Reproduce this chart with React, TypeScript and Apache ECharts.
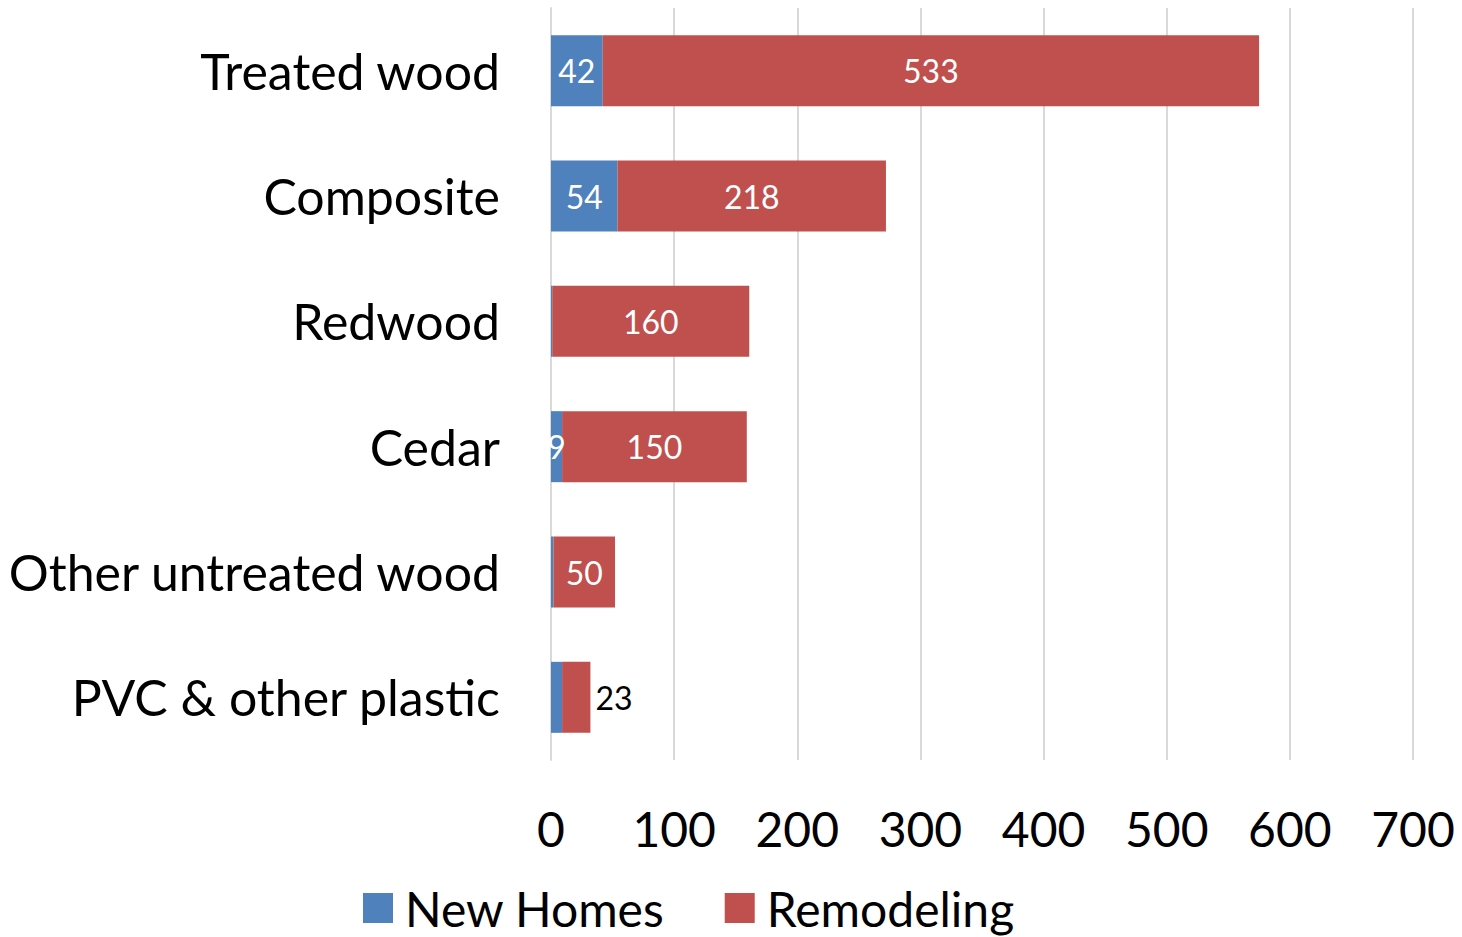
import React, { useEffect, useRef } from "react";
import * as echarts from "echarts";

const categories = ["Treated wood", "Composite", "Redwood", "Cedar", "Other untreated wood", "PVC & other plastic"];
const newHomes = [42, 54, 1, 9, 2, 9];
const remodeling = [533, 218, 160, 150, 50, 23];
const newHomesLabelShown = [true, true, false, true, false, false];
const remodelingLabelOutside = [false, false, false, false, false, true];
const xTicks = [0, 100, 200, 300, 400, 500, 600, 700];

const FONT = "Lato";

export default function App() {
  const ref = useRef<HTMLDivElement>(null);
  useEffect(() => {
    document.body.style.margin = "0";
    const chart = echarts.init(ref.current!, null, { renderer: "svg" });
    chart.setOption({
      animation: false,
      textStyle: { fontFamily: FONT },
      grid: { left: 551, right: 49, top: 8, bottom: 177, containLabel: false },
      legend: {
        bottom: 0,
        left: 358,
        icon: "rect",
        itemWidth: 30,
        itemHeight: 30,
        itemGap: 60,
        textStyle: { fontFamily: FONT, fontSize: 48, color: "#000", padding: [0, 0, 0, 7] },
        data: ["New Homes", "Remodeling"],
      },
      xAxis: {
        type: "value",
        min: xTicks[0],
        max: xTicks[xTicks.length - 1],
        interval: 100,
        axisLine: { show: false },
        axisTick: { show: false },
        splitLine: { show: true, lineStyle: { color: "#d9d9d9", width: 2 } },
        axisLabel: { fontFamily: FONT, fontSize: 48, color: "#000", margin: 44 },
      },
      yAxis: {
        type: "category",
        data: categories,
        inverse: true,
        axisLine: { show: true, lineStyle: { color: "#d9d9d9", width: 2 } },
        axisTick: { show: false },
        axisLabel: { fontFamily: FONT, fontSize: 50, color: "#000", margin: 51, padding: [0, 0, 4, 0] },
      },
      series: [
        {
          name: "New Homes",
          type: "bar",
          stack: "total",
          barWidth: 71,
          itemStyle: { color: "#4f81bd" },
          data: newHomes.map((v, i) => ({
            value: v,
            label: {
              show: newHomesLabelShown[i],
              position: "inside",
              color: "#fff",
              fontFamily: FONT,
              fontSize: 32,
            },
          })),
        },
        {
          name: "Remodeling",
          type: "bar",
          stack: "total",
          barWidth: 71,
          itemStyle: { color: "#c0504d" },
          data: remodeling.map((v, i) => ({
            value: v,
            label: {
              show: true,
              position: remodelingLabelOutside[i] ? "right" : "inside",
              distance: 5,
              color: remodelingLabelOutside[i] ? "#000" : "#fff",
              fontFamily: FONT,
              fontSize: 32,
            },
          })),
        },
      ],
    });
    return () => chart.dispose();
  }, []);
  return <div ref={ref} style={{ width: 1462, height: 937 }} />;
}
